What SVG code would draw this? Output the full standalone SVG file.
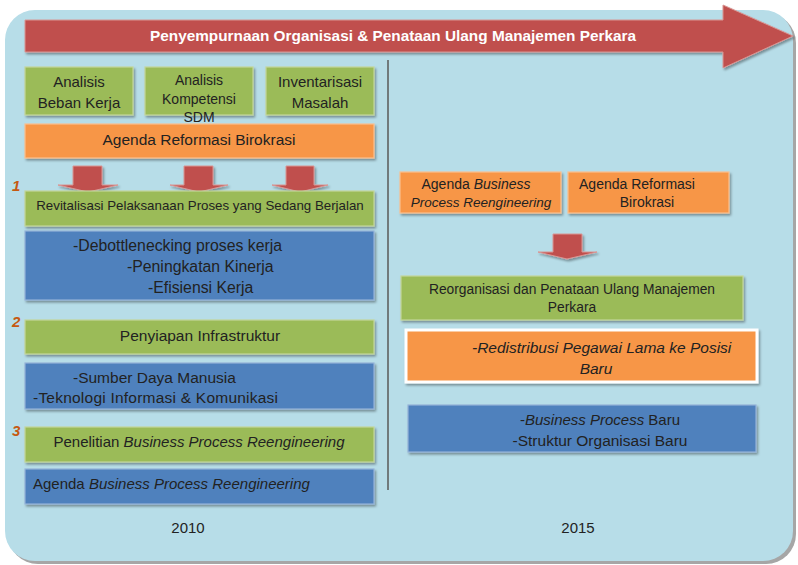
<svg xmlns="http://www.w3.org/2000/svg" width="798" height="565" viewBox="0 0 798 565">
<defs>
<filter id="sh" x="-10%" y="-20%" width="120%" height="150%">
<feDropShadow dx="1.5" dy="2" stdDeviation="1" flood-color="#000" flood-opacity="0.35"/>
</filter>
</defs>
<style>
text{font-family:"Liberation Sans",Arial,sans-serif;fill:#222}
.g{fill:#9bbb59;stroke:#c3d69b;stroke-width:1.2;filter:url(#sh)}
.o{fill:#f79646;stroke:#fac08f;stroke-width:1.2;filter:url(#sh)}
.b{fill:#4f81bd;stroke:#95b3d7;stroke-width:1.2;filter:url(#sh)}
.ar{fill:#c0504d;stroke:#d99694;stroke-width:1;filter:url(#sh)}
.c{text-anchor:middle}
.n{font-weight:bold;font-style:italic;fill:#c65911;font-size:15px}
.i{font-style:italic}
</style>
<rect x="8" y="13" width="788" height="551" rx="30" fill="#a6a6a6"/>
<rect x="5" y="10" width="788" height="551" rx="30" fill="#b7dde8"/>
<g id="title">
<path class="ar" d="M25,20 H723 V5 L793,36 L723,68 V52 H25 Z"/>
<text x="393" y="41" class="c" style="fill:#fff;font-weight:bold;font-size:15px" textLength="486" lengthAdjust="spacingAndGlyphs">Penyempurnaan Organisasi &amp; Penataan Ulang Manajemen Perkara</text>
</g>
<g id="connectors">
<line x1="388" y1="60" x2="388" y2="490" stroke="#595959" stroke-width="1.5"/>
<path class="ar" d="M73,166 H102 V185 H118 L88,192 L58,185 H73 Z"/>
<path class="ar" d="M184,166 H213 V185 H228 L199,192 L170,185 H184 Z"/>
<path class="ar" d="M286,166 H314 V185 H328 L300,192 L272,185 H286 Z"/>
<path class="ar" d="M553,234 H582 V252 H597 L567,259 L538,252 H553 Z"/>
</g>
<g id="n1"><rect class="g" x="25" y="67" width="108" height="48"/>
<text x="79" y="87" class="c" font-size="15">Analisis</text><text x="79" y="108" class="c" font-size="15">Beban Kerja</text></g>
<g id="n2"><rect class="g" x="145" y="67" width="108" height="48"/>
<text x="199" y="85" class="c" font-size="14">Analisis</text><text x="199" y="104" class="c" font-size="14">Kompetensi</text><text x="199" y="122" class="c" font-size="14">SDM</text></g>
<g id="n3"><rect class="g" x="266" y="67" width="108" height="48"/>
<text x="320" y="87" class="c" font-size="15">Inventarisasi</text><text x="320" y="108" class="c" font-size="15">Masalah</text></g>
<g id="n4"><rect class="o" x="25" y="124" width="349" height="34"/>
<text x="199" y="145" class="c" font-size="15.5">Agenda Reformasi  Birokrasi</text></g>
<text x="12" y="191" class="n">1</text>
<g id="n5"><rect class="g" x="25" y="191" width="349" height="35"/>
<text x="200" y="210" class="c" font-size="13.3">Revitalisasi Pelaksanaan Proses yang Sedang Berjalan</text></g>
<g id="n6"><rect class="b" x="25" y="231" width="349" height="69"/>
<text x="73" y="251" font-size="15.8">-Debottlenecking proses kerja</text>
<text x="127" y="272" font-size="15.8">-Peningkatan Kinerja</text>
<text x="148" y="293" font-size="15.8">-Efisiensi Kerja</text></g>
<text x="12" y="327" class="n">2</text>
<g id="n7"><rect class="g" x="25" y="320" width="349" height="34"/>
<text x="200" y="341" class="c" font-size="15.5">Penyiapan Infrastruktur</text></g>
<g id="n8"><rect class="b" x="25" y="363" width="349" height="46"/>
<text x="73" y="383" font-size="15.5">-Sumber Daya Manusia</text>
<text x="33" y="403" font-size="15.5" textLength="245" lengthAdjust="spacing">-Teknologi Informasi  &amp; Komunikasi</text></g>
<text x="12" y="436" class="n">3</text>
<g id="n9"><rect class="g" x="25" y="427" width="349" height="35"/>
<text x="199" y="447" class="c" font-size="15">Penelitian <tspan class="i">Business Process Reengineering</tspan></text></g>
<g id="n10"><rect class="b" x="25" y="469" width="349" height="35"/>
<text x="33" y="489" font-size="15">Agenda <tspan class="i">Business Process Reengineering</tspan></text></g>
<text x="188" y="533" class="c" font-size="15">2010</text>
<g id="n11"><rect class="o" x="400" y="172" width="161" height="41"/>
<text x="476" y="189" class="c" font-size="14">Agenda <tspan class="i">Business</tspan></text>
<text x="481" y="207" class="c i" font-size="13.5">Process Reengineering</text></g>
<g id="n12"><rect class="o" x="568" y="172" width="161" height="41"/>
<text x="637" y="189" class="c" font-size="14">Agenda Reformasi</text>
<text x="647" y="207" class="c" font-size="14">Birokrasi</text></g>
<g id="n13"><rect class="g" x="401" y="276" width="342" height="44"/>
<text x="572" y="294" class="c" font-size="13.8">Reorganisasi dan Penataan Ulang Manajemen</text>
<text x="572" y="312" class="c" font-size="13.8">Perkara</text></g>
<g id="n14"><rect x="406" y="330" width="351" height="52" fill="#f79646" stroke="#fff" stroke-width="3" filter="url(#sh)"/>
<text x="472" y="353" class="i" font-size="15.5">-Redistribusi Pegawai Lama ke Posisi</text>
<text x="596" y="374" class="c i" font-size="15.5">Baru</text></g>
<g id="n15"><rect class="b" x="408" y="405" width="348" height="47"/>
<text x="600" y="425" class="c" font-size="15">-<tspan class="i">Business Process</tspan> Baru</text>
<text x="600" y="446" class="c" font-size="15.5">-Struktur Organisasi Baru</text></g>
<text x="578" y="533" class="c" font-size="15">2015</text>
</svg>
